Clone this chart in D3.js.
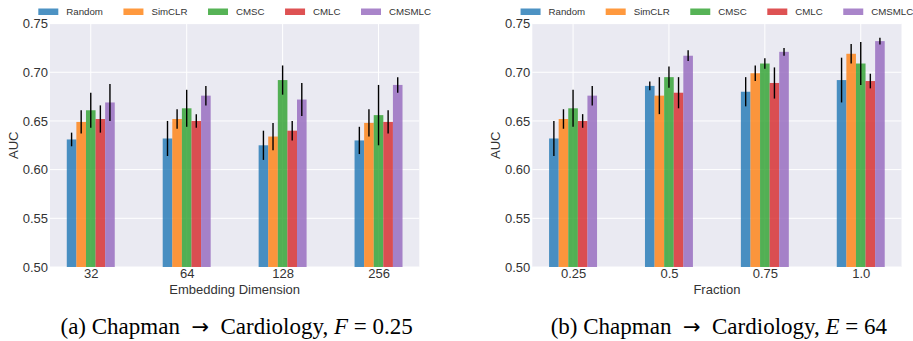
<!DOCTYPE html>
<html>
<head>
<meta charset="utf-8">
<script src="https://cdn.jsdelivr.net/npm/d3@7"></script>
<style>
  body { margin: 0; background: #fff; }
  svg { display: block; }
  text { font-family: "Liberation Sans", Arial, sans-serif; fill: #333; }
</style>
</head>
<body>
<div id="viz"></div>
<script>
// methods (legend order)
const methods = ['Random', 'SimCLR', 'CMSC', 'CMLC', 'CMSMLC'];
const colors = ['#1f77b4', '#ff7f0e', '#2ca02c', '#d62728', '#9467bd'];

// (a) embedding dimension, F = 0.25
const embedDims = ['32', '64', '128', '256'];
const embedMean = [
  [0.631, 0.632, 0.625, 0.630],
  [0.649, 0.652, 0.634, 0.648],
  [0.661, 0.663, 0.692, 0.656],
  [0.652, 0.650, 0.640, 0.649],
  [0.669, 0.676, 0.672, 0.687]
];
const embedErr = [
  [0.007, 0.018, 0.015, 0.014],
  [0.012, 0.010, 0.014, 0.014],
  [0.018, 0.019, 0.015, 0.031],
  [0.014, 0.007, 0.010, 0.012],
  [0.019, 0.010, 0.017, 0.008]
];

// (b) label fraction, E = 64
const fractions = ['0.25', '0.5', '0.75', '1.0'];
const fracMean = [
  [0.632, 0.686, 0.680, 0.692],
  [0.652, 0.676, 0.699, 0.719],
  [0.663, 0.695, 0.709, 0.709],
  [0.650, 0.679, 0.689, 0.691],
  [0.676, 0.717, 0.721, 0.732]
];
const fracErr = [
  [0.018, 0.0045, 0.015, 0.023],
  [0.010, 0.019, 0.008, 0.010],
  [0.019, 0.011, 0.0055, 0.022],
  [0.007, 0.016, 0.016, 0.0075],
  [0.010, 0.0055, 0.004, 0.0035]
];

const yTickValues = [0.50, 0.55, 0.60, 0.65, 0.70, 0.75];

const svg = d3.select('#viz').append('svg')
  .attr('width', 913)
  .attr('height', 341);

function panel(left, right, cats, means, errs, xTitle, capLabel, capVar, capVal) {
  const top = 23.6, bottom = 267;
  const x = d3.scaleLinear().domain([-0.425, 3.425]).range([left, right]);
  const y = d3.scaleLinear().domain([0.5, 0.75]).range([bottom, top]);
  const g = svg.append('g');

  g.append('rect')
    .attr('x', left).attr('y', top)
    .attr('width', right - left).attr('height', bottom - top)
    .attr('fill', '#eaeaf2');

  // grid
  g.selectAll('line.hg').data(yTickValues).enter().append('line')
    .attr('x1', left).attr('x2', right)
    .attr('y1', d => y(d)).attr('y2', d => y(d))
    .attr('stroke', '#fff').attr('stroke-width', 1);
  g.selectAll('line.vg').data(cats).enter().append('line')
    .attr('x1', (d, i) => x(i)).attr('x2', (d, i) => x(i))
    .attr('y1', top).attr('y2', bottom)
    .attr('stroke', '#fff').attr('stroke-width', 1);

  // bars
  const bw = 0.1;
  methods.forEach((m, k) => {
    const rows = cats.map((c, i) => ({ i: i, v: means[k][i], e: errs[k][i] }));
    const off = (k - 2) * bw;
    g.selectAll('rect.b' + k).data(rows).enter().append('rect')
      .attr('x', d => x(d.i + off - bw / 2))
      .attr('width', x(bw) - x(0))
      .attr('y', d => y(d.v))
      .attr('height', d => bottom - y(d.v))
      .attr('fill', colors[k])
      .attr('fill-opacity', 0.8);
    g.selectAll('line.e' + k).data(rows).enter().append('line')
      .attr('x1', d => x(d.i + off)).attr('x2', d => x(d.i + off))
      .attr('y1', d => y(d.v - d.e)).attr('y2', d => y(d.v + d.e))
      .attr('stroke', '#000').attr('stroke-width', 1.4);
  });

  // axes (labels only, seaborn style)
  const yAxis = g.append('g')
    .attr('transform', `translate(${left},0)`)
    .call(d3.axisLeft(y).tickValues(yTickValues).tickFormat(d3.format('.2f')).tickSize(0).tickPadding(2));
  const xAxis = g.append('g')
    .attr('transform', `translate(0,${bottom})`)
    .call(d3.axisBottom(x).tickValues(d3.range(cats.length)).tickFormat(i => cats[i]).tickSize(0).tickPadding(2));
  [yAxis, xAxis].forEach(a => {
    a.select('.domain').remove();
    a.selectAll('text').attr('font-size', 13).attr('fill', '#333')
      .attr('font-family', '"Liberation Sans", Arial, sans-serif');
  });

  g.append('text')
    .attr('x', (left + right) / 2).attr('y', 293.5)
    .attr('text-anchor', 'middle').attr('font-size', 13)
    .text(xTitle);
  g.append('text')
    .attr('transform', `translate(${left - 32},${(top + bottom) / 2}) rotate(-90)`)
    .attr('text-anchor', 'middle').attr('font-size', 13)
    .text('AUC');

  // legend, centred over the plot
  const leg = g.append('g');
  let cx = 0;
  methods.forEach((m, k) => {
    leg.append('rect')
      .attr('x', cx).attr('y', 8.5).attr('width', 20).attr('height', 6.5)
      .attr('fill', colors[k]).attr('fill-opacity', 0.8);
    const t = leg.append('text')
      .attr('x', cx + 28).attr('y', 15.3)
      .attr('font-size', 9.7)
      .text(m);
    cx += 28 + t.node().getComputedTextLength() + 20.5;
  });
  const lw = cx - 20.5;
  leg.attr('transform', `translate(${(left + right) / 2 - lw / 2},0)`);

  // caption
  const cap = g.append('text')
    .attr('x', (left + right) / 2 + 2).attr('y', 334)
    .attr('text-anchor', 'middle')
    .attr('font-size', 23)
    .style('font-family', '"Liberation Serif", "Times New Roman", serif')
    .style('fill', '#000');
  cap.append('tspan').text(capLabel + ' Chapman\u2002');
  cap.append('tspan').style('font-family', '"DejaVu Sans", sans-serif')
    .attr('font-size', 21).text('\u2192');
  cap.append('tspan').text('\u2002Cardiology, ');
  cap.append('tspan').attr('font-style', 'italic').text(capVar);
  cap.append('tspan').text(' = ' + capVal);
}

panel(50, 419.3, embedDims, embedMean, embedErr, 'Embedding Dimension', '(a)', 'F', '0.25');
panel(532.3, 901.5, fractions, fracMean, fracErr, 'Fraction', '(b)', 'E', '64');
</script>
</body>
</html>
